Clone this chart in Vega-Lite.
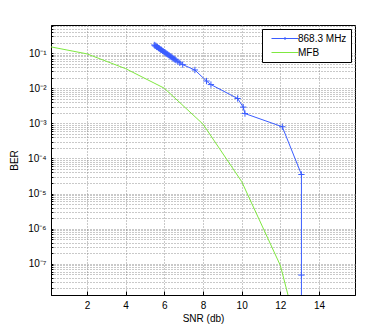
{
  "$schema": "https://vega.github.io/schema/vega-lite/v6.json",
  "width": 304,
  "height": 270,
  "padding": {"left": 51, "top": 25, "right": 37, "bottom": 38},
  "autosize": {"type": "none"},
  "background": "white",
  "config": {
    "font": "Liberation Sans",
    "view": {"stroke": "black", "strokeWidth": 1},
    "axis": {"labelFont": "Liberation Sans", "titleFont": "Liberation Sans", "labelFontSize": 10, "titleFontSize": 10, "titleFontWeight": "normal", "labelColor": "black", "titleColor": "black", "domainColor": "black", "tickColor": "black", "gridColor": "#888", "gridDash": [1, 2], "gridOpacity": 0.9},
    "legend": {"orient": "top-right", "offset": 4, "strokeColor": "black", "fillColor": "white", "padding": 4, "labelFontSize": 10, "labelColor": "black", "symbolSize": 100, "symbolStrokeWidth": 1, "rowPadding": 3, "labelFont": "Liberation Sans", "labelOffset": 21}
  },
  "datasets": {
    "series": [
      {"snr": 5.48, "ber": 0.170, "s": "868.3 MHz"},
      {"snr": 5.52, "ber": 0.160, "s": "868.3 MHz"},
      {"snr": 5.56, "ber": 0.162, "s": "868.3 MHz"},
      {"snr": 5.6, "ber": 0.150, "s": "868.3 MHz"},
      {"snr": 5.65, "ber": 0.148, "s": "868.3 MHz"},
      {"snr": 5.7, "ber": 0.139, "s": "868.3 MHz"},
      {"snr": 5.75, "ber": 0.135, "s": "868.3 MHz"},
      {"snr": 5.8, "ber": 0.126, "s": "868.3 MHz"},
      {"snr": 5.85, "ber": 0.124, "s": "868.3 MHz"},
      {"snr": 5.9, "ber": 0.116, "s": "868.3 MHz"},
      {"snr": 5.95, "ber": 0.112, "s": "868.3 MHz"},
      {"snr": 6.0, "ber": 0.106, "s": "868.3 MHz"},
      {"snr": 6.05, "ber": 0.103, "s": "868.3 MHz"},
      {"snr": 6.1, "ber": 0.097, "s": "868.3 MHz"},
      {"snr": 6.15, "ber": 0.094, "s": "868.3 MHz"},
      {"snr": 6.2, "ber": 0.089, "s": "868.3 MHz"},
      {"snr": 6.25, "ber": 0.086, "s": "868.3 MHz"},
      {"snr": 6.3, "ber": 0.081, "s": "868.3 MHz"},
      {"snr": 6.35, "ber": 0.079, "s": "868.3 MHz"},
      {"snr": 6.4, "ber": 0.075, "s": "868.3 MHz"},
      {"snr": 6.45, "ber": 0.071, "s": "868.3 MHz"},
      {"snr": 6.5, "ber": 0.068, "s": "868.3 MHz"},
      {"snr": 6.55, "ber": 0.066, "s": "868.3 MHz"},
      {"snr": 6.6, "ber": 0.063, "s": "868.3 MHz"},
      {"snr": 6.7, "ber": 0.057, "s": "868.3 MHz"},
      {"snr": 6.8, "ber": 0.053, "s": "868.3 MHz"},
      {"snr": 6.95, "ber": 0.047, "s": "868.3 MHz"},
      {"snr": 7.58, "ber": 0.033, "s": "868.3 MHz"},
      {"snr": 8.18, "ber": 0.016, "s": "868.3 MHz"},
      {"snr": 8.41, "ber": 0.0127, "s": "868.3 MHz"},
      {"snr": 9.79, "ber": 0.0051, "s": "868.3 MHz"},
      {"snr": 10.08, "ber": 0.0029, "s": "868.3 MHz"},
      {"snr": 10.17, "ber": 0.0019, "s": "868.3 MHz"},
      {"snr": 12.1, "ber": 0.0008, "s": "868.3 MHz"},
      {"snr": 13.09, "ber": 0.000035, "s": "868.3 MHz"},
      {"snr": 13.09, "ber": 0.000000048, "s": "868.3 MHz"},
      {"snr": 13.09, "ber": 0.0000000001, "s": "868.3 MHz"},
      {"snr": 0.14, "ber": 0.15, "s": "MFB"},
      {"snr": 2, "ber": 0.095, "s": "MFB"},
      {"snr": 4, "ber": 0.036, "s": "MFB"},
      {"snr": 6, "ber": 0.01, "s": "MFB"},
      {"snr": 8, "ber": 0.00095, "s": "MFB"},
      {"snr": 10, "ber": 0.000022, "s": "MFB"},
      {"snr": 12, "ber": 0.00000009, "s": "MFB"},
      {"snr": 14, "ber": 0.000000000005, "s": "MFB"}
    ]
  },
  "data": {"name": "series"},
  "encoding": {
    "x": {"field": "snr", "type": "quantitative", "scale": {"domain": [0.14, 15.86], "nice": false, "zero": false},
      "axis": {"title": "SNR (db)", "values": [2, 4, 6, 8, 10, 12, 14], "grid": true, "tickSize": -4, "labelPadding": 9, "titlePadding": 3}},
    "y": {"field": "ber", "type": "quantitative", "scale": {"type": "log", "domain": [1.3e-8, 0.63], "nice": false},
      "axis": {"title": "BER", "titlePadding": 8,
        "values": [2e-8,3e-8,4e-8,5e-8,6e-8,7e-8,8e-8,9e-8,1e-7,2e-7,3e-7,4e-7,5e-7,6e-7,7e-7,8e-7,9e-7,1e-6,2e-6,3e-6,4e-6,5e-6,6e-6,7e-6,8e-6,9e-6,1e-5,2e-5,3e-5,4e-5,5e-5,6e-5,7e-5,8e-5,9e-5,1e-4,2e-4,3e-4,4e-4,5e-4,6e-4,7e-4,8e-4,9e-4,1e-3,2e-3,3e-3,4e-3,5e-3,6e-3,7e-3,8e-3,9e-3,1e-2,2e-2,3e-2,4e-2,5e-2,6e-2,7e-2,8e-2,9e-2,1e-1,2e-1,3e-1,4e-1,5e-1,6e-1],
        "labelExpr": "abs(log(datum.value)/LN10 - round(log(datum.value)/LN10)) < 0.001 ? '10' + ['⁰','⁻¹','⁻²','⁻³','⁻⁴','⁻⁵','⁻⁶','⁻⁷','⁻⁸'][round(-log(datum.value)/LN10)] : ''",
        "tickSize": -2, "labelPadding": 7, "grid": true}},
    "color": {"field": "s", "type": "nominal", "scale": {"domain": ["868.3 MHz", "MFB"], "range": ["#3a5cff", "#7fe840"]},
      "legend": {"title": null}}
  },
  "layer": [
    {"mark": {"type": "line", "strokeWidth": 1, "clip": true}},
    {"transform": [{"filter": "datum.s == '868.3 MHz'"}],
     "mark": {"type": "point", "shape": "M-1,0L1,0M0,-1L0,1", "filled": false, "size": 40, "strokeWidth": 1, "clip": true, "opacity": 1}},
    {"transform": [{"filter": "datum.snr < -100"}],
     "mark": {"type": "point", "filled": false, "strokeWidth": 1, "opacity": 1},
     "encoding": {"shape": {"field": "s", "type": "nominal", "scale": {"domain": ["868.3 MHz", "MFB"], "range": ["M0,0L5.4,0M2.7,-0.3L2.7,0.3", "M0,0L5.4,0"]},
       "legend": {"title": null}}}}
  ]
}
